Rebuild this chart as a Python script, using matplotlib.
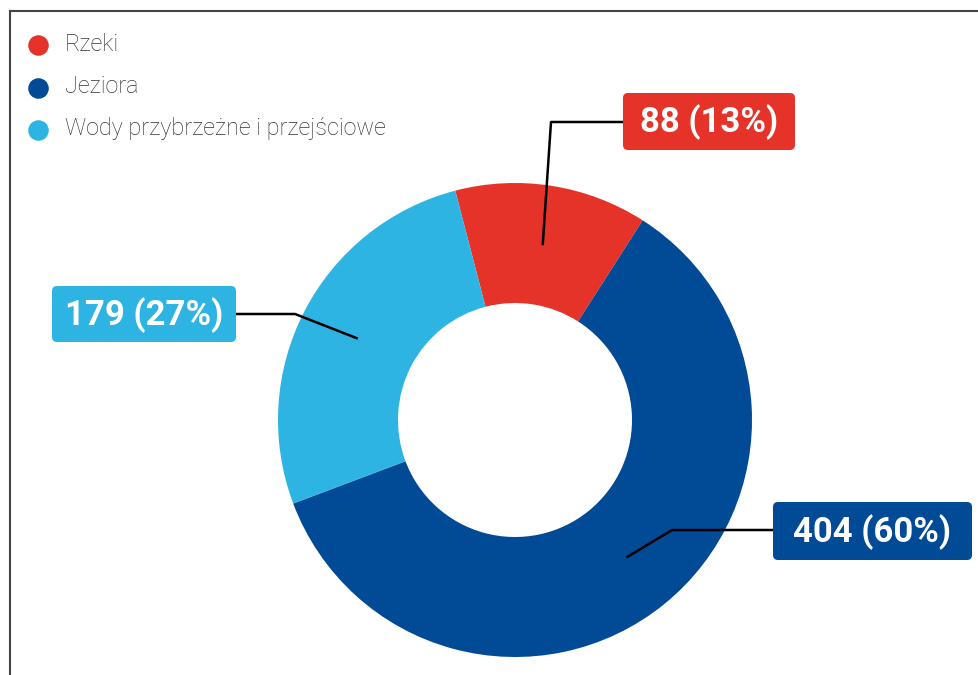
import numpy as np
import matplotlib
matplotlib.use("Agg")
import matplotlib.pyplot as plt
from matplotlib.patches import FancyBboxPatch

# data
categories = ["Rzeki", "Jeziora", "Wody przybrzeżne i przejściowe"]
values = [88, 404, 179]
colors = ["#E5332A", "#004A96", "#2EB4E3"]

W, H = 979, 675
fig = plt.figure(figsize=(W / 100, H / 100), dpi=100)
ax = fig.add_axes([0, 0, 1, 1])

cx, cy = 515, H - 420
r_out, r_in = 237, 117
total = sum(values)
start = 104.6

wedges, _ = ax.pie(values, colors=colors, startangle=start, counterclock=False,
                   radius=r_out, center=(cx, cy), frame=True,
                   wedgeprops=dict(width=r_out - r_in, edgecolor="white", linewidth=0))
ax.set_xlim(0, W)
ax.set_ylim(0, H)
ax.set_aspect("equal")
ax.axis("off")

# label boxes (pixel coords, y from top): elbow x, elbow y, box left, box right, box top, box bottom
label_pos = [
    (551, 122, 623, 795, 93, 150),
    (672, 530, 773, 972, 502, 560),
    (295, 314, 52, 236, 286, 342),
]

ang = start
for v, col, pos in zip(values, colors, label_pos):
    span = v / total * 360
    mid = np.deg2rad(ang - span / 2)
    ang -= span
    rm = (r_out + r_in) / 2
    sx, sy = cx + rm * np.cos(mid), cy + rm * np.sin(mid)
    ex, ey, bl, br, bt, bb = pos
    edge = bl if ex < bl else br
    ax.plot([sx, ex, edge], [sy, H - ey, H - ey], color="black", lw=1.8,
            solid_capstyle="butt", zorder=3)
    box = FancyBboxPatch((bl + 4, H - bb + 4), br - bl - 8, bb - bt - 8,
                         boxstyle="round,pad=4,rounding_size=5",
                         fc=col, ec="none", zorder=4)
    ax.add_patch(box)
    pct = round(v / total * 100)
    ax.text((bl + br) / 2, H - (bt + bb) / 2 - 1, f"{v} ({pct}%)", color="white",
            ha="center", va="center", fontsize=25, fontweight="bold",
            family="Roboto", zorder=5)

# legend
for i, (cat, col) in enumerate(zip(categories, colors)):
    y = H - (45 + i * 42.5)
    ax.scatter([38], [y], s=190, color=col, zorder=3)
    ax.text(65, y + 1, cat, va="center", ha="left", fontsize=16.8,
            family="Roboto", fontweight="light", color="#333333")

# frame lines
ax.plot([10, W], [H - 11, H - 11], color="#444444", lw=1.5)
ax.plot([10, 10], [H - 11, 0], color="#444444", lw=1.5)

fig.savefig("out.png", dpi=100)
